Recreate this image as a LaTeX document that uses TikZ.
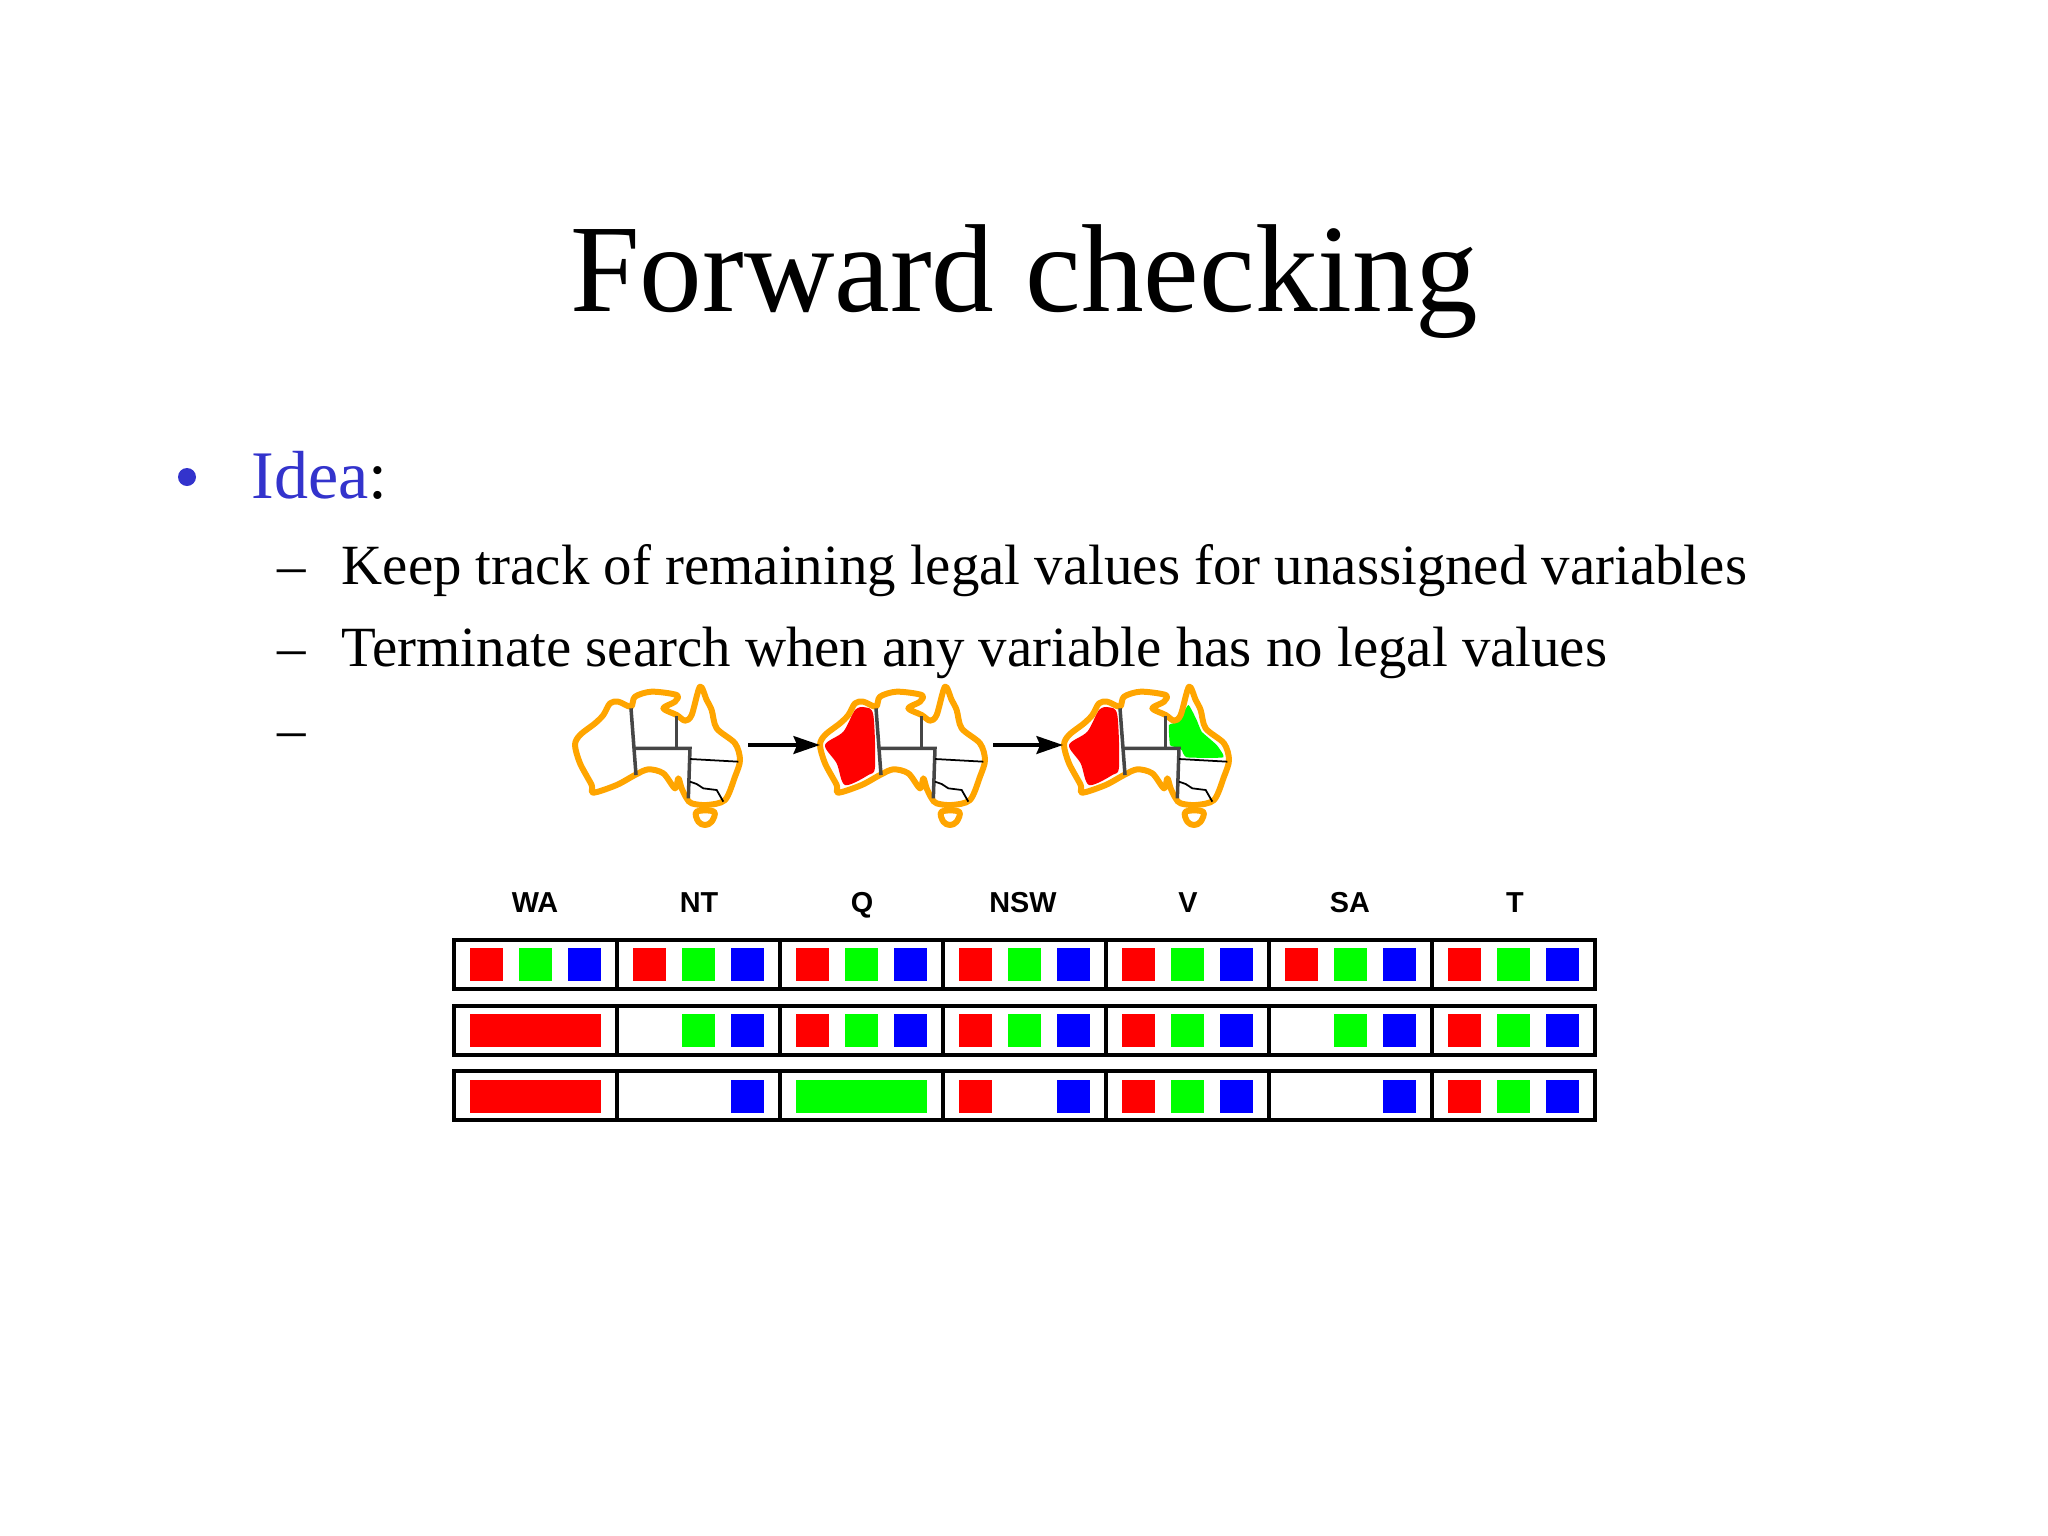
\documentclass[tikz,border=0pt]{standalone}
\usepackage{fontspec}
\setmainfont{Liberation Serif}
\newfontfamily\labelfont{Liberation Sans}
\usetikzlibrary{arrows.meta}
\definecolor{ideablue}{RGB}{51,51,204}
\definecolor{ozorange}{RGB}{255,165,0}
\definecolor{ozline}{RGB}{70,70,70}
\definecolor{tilered}{RGB}{255,0,0}
\definecolor{tilegreen}{RGB}{0,255,0}
\definecolor{tileblue}{RGB}{0,0,255}
\tikzset{
	txt/.style={inner sep=0, anchor=base west},
	varname/.style={inner sep=0, anchor=base, font=\labelfont\bfseries\fontsize{8.2}{8.2}\selectfont},
	ozcoast/.style={draw=ozorange, line width=1.7pt, line join=round},
	ozborder/.style={draw=ozline, line width=1pt},
	ozthin/.style={draw=black, line width=.5pt},
	step arrow/.style={-{Stealth[length=7.5pt, width=5pt, inset=1pt]}, line width=1.2pt},
	cellbox/.style={draw=black, line width=1.2pt},
	ozmap/.pic={
		\begin{scope}[scale=1/3]
			\draw[ozcoast] plot[smooth cycle, tension=.5] coordinates {(45,225) (60,195) (105,160) (130,135) (150,100) (175,95) (213,110) (225,80) (275,65) (350,75) (345,95) (310,115) (350,135) (375,152) (395,135) (420,50) (440,90) (455,120) (470,175) (525,220) (540,270) (525,320) (495,390) (440,405) (395,400) (380,385) (365,355) (355,325) (345,355) (310,310) (265,298) (225,315) (170,345) (100,368) (95,345) (60,280)};
			\draw[ozcoast] plot[smooth cycle, tension=.6] coordinates {(410,425) (462,425) (455,455) (435,465) (415,455)};
			\draw[ozborder] (213,115) -- (228,315);
			\draw[ozborder] (222,235) -- (390,235) -- (385,385);
			\draw[ozborder] (350,138) -- (350,235);
			\draw[ozthin] (390,267) -- (535,275);
			\draw[ozthin] (390,335) -- (410,342) -- (430,355) -- (470,360) -- (490,395);
		\end{scope}
	},
	ozred/.pic={
		\fill[tilered, scale=1/3] plot[smooth cycle, tension=.5] coordinates {(60,225) (115,185) (150,120) (180,112) (205,135) (210,290) (190,315) (120,345) (95,280)};
	},
}
\newcommand{\tiles}[4]{\foreach \i in {#4} {\fill[#1] ({454+163*\i+#2},#3) rectangle ++(33,33);}}
\begin{document}
\begin{tikzpicture}[x=.01cm, y=-.01cm]
	\useasboundingbox (0,0) rectangle (2048,1536);
	\node[inner sep=0, anchor=base, font=\fontsize{35.6}{35.6}\selectfont] (title) at (1024,311) {Forward checking};
	\fill[ideablue] (187,477) circle (9) coordinate (bullet);
	\node[txt, font=\fontsize{19.35}{19.35}\selectfont] (idea) at (251,498) {\textcolor{ideablue}{Idea}:};
	\foreach \y/\name/\line in {584/keep/Keep track of remaining legal values for unassigned variables, 666/stop/Terminate search when any variable has no legal values} {
		\node[txt, font=\fontsize{16.17}{16.17}\selectfont] (\name) at (341,\y) {\line};
	}
	\foreach \y/\name in {584/a, 666/b, 748/c} {
		\node[txt, font=\fontsize{16.17}{16.17}\selectfont] (dash\name) at (277,\y) {–};
	}

	% maps
	\pic (redb) at (805,670) {ozred};
	\pic (redc) at (1049,670) {ozred};
	\begin{scope}[shift={(1049,670)}, scale=1/3]
		\fill[tilegreen] plot[smooth cycle, tension=.25] coordinates {(360,165) (388,155) (418,105) (443,150) (458,185) (503,225) (523,262) (413,262) (398,240) (383,232) (363,225)};
	\end{scope}
	\foreach \dx/\name in {0/a, 245/b, 489/c} {
		\pic (map\name) at (560+\dx,670) {ozmap};
	}
	\coordinate (a1) at (748,745);
	\coordinate (a2) at (820,745);
	\coordinate (b1) at (993,745);
	\coordinate (b2) at (1063,745);
	\draw[step arrow] (a1) -- (a2);
	\draw[step arrow] (b1) -- (b2);

	% table
	\foreach \x/\name in {535/WA, 699/NT, 862/Q, 1023/NSW, 1188/V, 1350/SA, 1515/T} {
		\node[varname] (\name) at (\x,912) {\name};
	}
	\tiles{tilered}{16}{948}{0,...,6}
	\tiles{tilegreen}{65}{948}{0,...,6}
	\tiles{tileblue}{114}{948}{0,...,6}
	\tiles{tilered}{16}{1013.5}{2,3,4,6}
	\tiles{tilegreen}{65}{1013.5}{1,...,6}
	\tiles{tileblue}{114}{1013.5}{1,...,6}
	\tiles{tilered}{16}{1079.5}{3,4,6}
	\tiles{tilegreen}{65}{1079.5}{4,6}
	\tiles{tileblue}{114}{1079.5}{1,3,4,5,6}
	\fill[tilered] (470,1013.5) rectangle ++(131,33);
	\fill[tilered] (470,1079.5) rectangle ++(131,33);
	\fill[tilegreen] (796,1079.5) rectangle ++(131,33);
	\foreach \y in {940,1006,1071} {
		\foreach \i in {0,...,6} {
			\draw[cellbox] ({454+163*\i},\y) rectangle ++(163,49);
		}
	}
\end{tikzpicture}
\end{document}
